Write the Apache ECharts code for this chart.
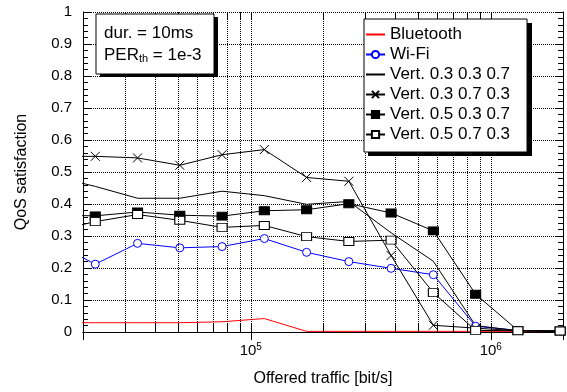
<!DOCTYPE html>
<html>
<head>
<meta charset="utf-8">
<script src="https://cdn.jsdelivr.net/npm/echarts@6/dist/echarts.min.js"></script>
<style>html,body{margin:0;padding:0;background:#fff}#c{width:567px;height:392px}</style>
</head>
<body>
<div id="c"></div>
<script>
// ---- data ----
const traffic = [15000, 22500, 33750, 50625, 75938, 113906, 170859, 256289, 384434, 576650, 864976, 1297463, 1946195];
const bluetooth = [0.029, 0.029, 0.029, 0.029, 0.032, 0.042, 0.002, 0.002, 0.002, 0.002, 0.002, 0.002, 0.002];
const wifi      = [0.28, 0.212, 0.277, 0.263, 0.267, 0.292, 0.249, 0.220, 0.199, 0.179, 0.018, 0.005, 0.003];
const vert_3_3_7 = [0.487, 0.455, 0.418, 0.418, 0.440, 0.426, 0.399, 0.408, 0.31, 0.221, 0.02, 0.004, 0.002];
const vert_3_7_3 = [0.548, 0.549, 0.544, 0.521, 0.554, 0.570, 0.483, 0.471, 0.239, 0.021, 0.012, 0.004, 0.002];
const vert_5_3_7 = [0.365, 0.363, 0.375, 0.365, 0.362, 0.379, 0.382, 0.401, 0.372, 0.316, 0.118, 0.005, 0.003];
const vert_5_7_3 = [0.314, 0.345, 0.367, 0.349, 0.327, 0.333, 0.298, 0.283, 0.287, 0.123, 0.005, 0.004, 0.003];
const seriesNames = ['Bluetooth', 'Wi-Fi', 'Vert. 0.3 0.3 0.7', 'Vert. 0.3 0.7 0.3', 'Vert. 0.5 0.3 0.7', 'Vert. 0.5 0.7 0.3'];
const xGridValues = [30000, 40000, 50000, 60000, 70000, 80000, 90000, 100000, 200000, 300000, 400000, 500000, 600000, 700000, 800000, 900000, 1000000];
const xMin = 20000, xMax = 2000000;
const yMin = 0, yMax = 1;

const FONT = "'Liberation Sans', Arial, Helvetica, sans-serif";
const pair = arr => traffic.map((x, i) => [x, arr[i]]);

const gridLines = [];
xGridValues.forEach(v => {
  gridLines.push({ xAxis: v, lineStyle: { type: [1, 1], color: '#000', width: 1 } });
  gridLines.push([{ coord: [v, yMax], lineStyle: { type: 'solid', color: '#000', width: 1 } }, { coord: [v, yMax - 0.025] }]);
  gridLines.push([{ coord: [v, yMin], lineStyle: { type: 'solid', color: '#000', width: 1 } }, { coord: [v, yMin + 0.025] }]);
});

const chart = echarts.init(document.getElementById('c'), null, { renderer: 'canvas' });
const lineBase = { type: 'line', xAxisIndex: 0, yAxisIndex: 0, clip: true, animation: false, z: 3 };

chart.setOption({
  animation: false,
  backgroundColor: '#fff',
  textStyle: { fontFamily: FONT },
  grid: { left: 83, top: 12, right: 4, bottom: 59, containLabel: false },
  xAxis: [{
    type: 'log', logBase: 10, min: xMin, max: xMax, position: 'bottom',
    name: 'Offered traffic [bit/s]', nameLocation: 'middle', nameGap: 39,
    nameTextStyle: { fontSize: 16, color: '#000', fontFamily: FONT },
    axisLine: { show: true, lineStyle: { color: '#000', width: 1 } },
    axisTick: { show: true, inside: true, length: 8, lineStyle: { color: '#000' } },
    splitLine: { show: false },
    axisLabel: {
      margin: 10, color: '#000', fontFamily: FONT, showMinLabel: false, showMaxLabel: false,
      formatter: function (v) {
        const l = Math.log10(v), e = Math.round(l);
        if (Math.abs(l - e) > 1e-6) return '';
        return '{b|10}{s|' + e + '}';
      },
      rich: { b: { fontSize: 15, fontFamily: FONT, color: '#000' }, s: { fontSize: 10, fontFamily: FONT, color: '#000', padding: [0, 0, 8, 0] } }
    }
  }, {
    type: 'log', logBase: 10, min: xMin, max: xMax, position: 'top',
    axisLine: { show: true, lineStyle: { color: '#000', width: 1 } },
    axisTick: { show: true, inside: true, length: 8, lineStyle: { color: '#000' } },
    axisLabel: { show: false }, splitLine: { show: false }
  }],
  yAxis: [{
    type: 'value', min: yMin, max: yMax, interval: 0.1, position: 'left',
    name: 'QoS satisfaction', nameLocation: 'middle', nameGap: 53, nameRotate: 90,
    nameTextStyle: { fontSize: 16, color: '#000', fontFamily: FONT },
    axisLine: { show: true, lineStyle: { color: '#000', width: 1 } },
    axisTick: { show: true, inside: true, length: 8, lineStyle: { color: '#000' } },
    minorTick: { show: true, splitNumber: 5, length: 5, lineStyle: { color: '#000' } },
    splitLine: { show: true, lineStyle: { type: [1, 1], color: '#000', width: 1 } },
    axisLabel: { margin: 11, fontSize: 15, color: '#000', fontFamily: FONT, formatter: v => String(Math.round(v * 10) / 10) }
  }, {
    type: 'value', min: yMin, max: yMax, interval: 0.1, position: 'right',
    axisLine: { show: true, lineStyle: { color: '#000', width: 1 } },
    axisTick: { show: true, inside: true, length: 8, lineStyle: { color: '#000' } },
    minorTick: { show: true, splitNumber: 5, length: 5, lineStyle: { color: '#000' } },
    splitLine: { show: false }, axisLabel: { show: false }
  }],
  legend: {
    orient: 'vertical', left: 364, top: 19,
    padding: [7, 17, 9, 1], itemGap: 3, itemWidth: 19, itemHeight: 9,
    backgroundColor: '#fff', borderColor: '#000', borderWidth: 1, borderRadius: 0,
    textStyle: { fontSize: 17, lineHeight: 17, color: '#000', fontFamily: FONT },
    data: seriesNames.map((n, i) => (i === 0 || i === 2) ? { name: n, itemStyle: { opacity: 0 } } : { name: n }),
    z: 10
  },
  graphic: [
    // legend shadow
    { type: 'rect', z: 9, shape: { x: 368, y: 23, width: 164, height: 133 }, style: { fill: '#000' } },
    // annotation box with shadow
    { type: 'rect', z: 100, shape: { x: 100, y: 17, width: 118, height: 60 }, style: { fill: '#000' } },
    { type: 'rect', z: 101, shape: { x: 96, y: 14, width: 118, height: 60 },
      style: { fill: '#fff', stroke: '#000', lineWidth: 1 } },
    { type: 'text', z: 102, x: 104, y: 33,
      style: { text: 'dur. = 10ms', fontSize: 17, fontFamily: FONT, fill: '#000', verticalAlign: 'middle' } },
    { type: 'text', z: 102, x: 104, y: 55,
      style: { text: 'PER{s|th} = 1e-3', fontSize: 17, fontFamily: FONT, fill: '#000', verticalAlign: 'middle',
        rich: { s: { fontSize: 11, fontFamily: FONT, fill: '#000', padding: [7, 0, 0, 0] } } } }
  ],
  series: [
    { type: 'line', name: '__grid', data: [], z: 1, silent: true, animation: false,
      markLine: { silent: true, symbol: ['none', 'none'], label: { show: false }, animation: false, data: gridLines } },
    Object.assign({}, lineBase, { name: seriesNames[0], data: pair(bluetooth), symbol: 'none',
      lineStyle: { color: '#ff0000', width: 1 }, itemStyle: { color: '#ff0000' } }),
    Object.assign({}, lineBase, { name: seriesNames[1], data: pair(wifi), symbol: 'circle', symbolSize: 8, showAllSymbol: true,
      lineStyle: { color: '#0000ff', width: 1 }, itemStyle: { color: '#fff', borderColor: '#0000ff', borderWidth: 1 } }),
    Object.assign({}, lineBase, { name: seriesNames[2], data: pair(vert_3_3_7), symbol: 'none',
      lineStyle: { color: '#000', width: 1 }, itemStyle: { color: '#000' } }),
    Object.assign({}, lineBase, { name: seriesNames[3], data: pair(vert_3_7_3), symbol: 'path://M0,0L10,10M0,10L10,0', symbolSize: 9, showAllSymbol: true,
      lineStyle: { color: '#000', width: 1 }, itemStyle: { color: 'none', borderColor: '#000', borderWidth: 1 } }),
    Object.assign({}, lineBase, { name: seriesNames[4], data: pair(vert_5_3_7), symbol: 'rect', symbolSize: [10, 8], showAllSymbol: true,
      lineStyle: { color: '#000', width: 1 }, itemStyle: { color: '#000', borderColor: '#000', borderWidth: 1 } }),
    Object.assign({}, lineBase, { name: seriesNames[5], data: pair(vert_5_7_3), symbol: 'rect', symbolSize: [10, 8], showAllSymbol: true,
      lineStyle: { color: '#000', width: 1 }, itemStyle: { color: '#fff', borderColor: '#000', borderWidth: 1 } })
  ]
});
</script>
</body>
</html>
